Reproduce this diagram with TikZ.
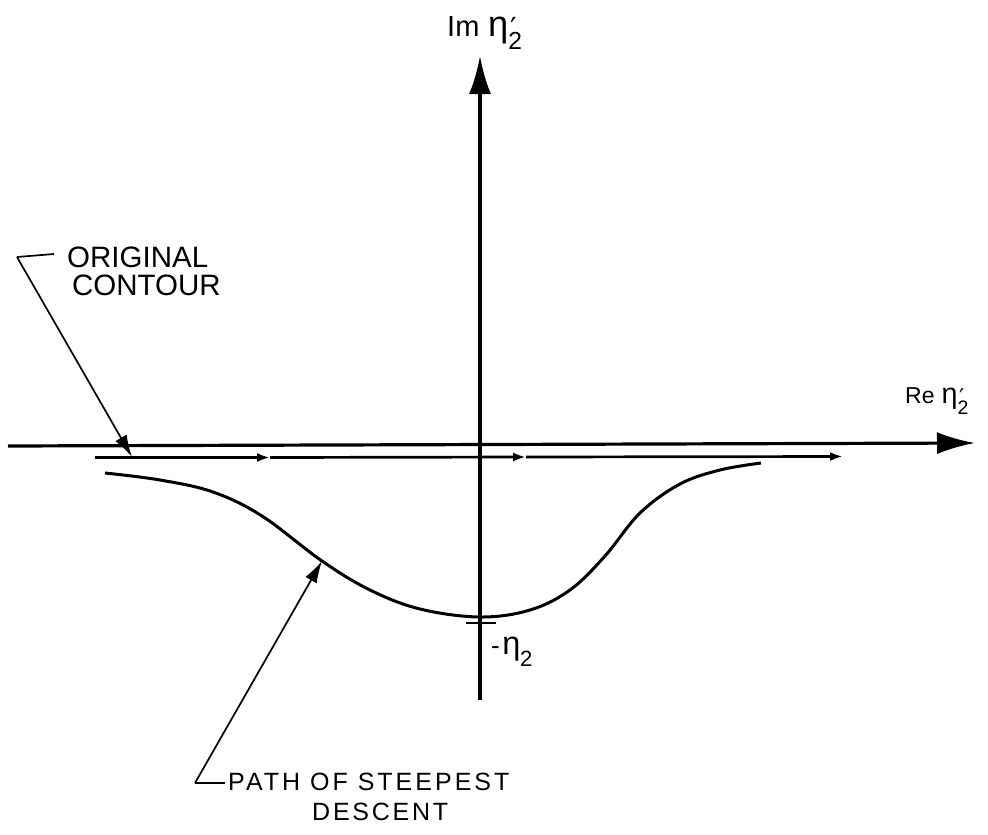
\documentclass[tikz,border=0pt]{standalone}
\usepackage{fontspec}
\setmainfont{Liberation Sans}
\newfontfamily\dvs{DejaVu Sans}
\usetikzlibrary{arrows.meta}
\newcommand{\bigeta}{\scalebox{1.25}{η}}
\newcommand{\etaPr}{\bigeta\rlap{\kern0.07em\raisebox{-0.1em}{\dvs ′}}\raisebox{-0.48em}{\scalebox{0.85}{2}}}
\newcommand{\etaNo}{\bigeta\kern-0.02em\raisebox{-0.48em}{\scalebox{0.85}{2}}}
\newcommand{\fs}[1]{\fontsize{#1}{#1}\selectfont}
\begin{document}
\begin{tikzpicture}[x=1pt,y=-1pt,
  axis/.style={line width=3.2pt,-{Latex[length=38pt,width=22pt]}},
  contour/.style={line width=2.7pt,-{Latex[length=13pt,width=9pt]}},
  leader/.style={line width=1.7pt},
  leadarrow/.style={line width=1.7pt,-{Latex[length=22pt,width=13pt]}},
  lbl/.style={inner sep=0pt,anchor=base west}]
\useasboundingbox (0,0) rectangle (988,835);
% axes
\coordinate (hL) at (8,446);
\coordinate (hR) at (975,443);
\coordinate (vB) at (480,700);
\coordinate (vT) at (480,56);
\draw[axis] (hL) -- (hR);
\draw[axis] (vB) -- (vT);
% original contour
\coordinate (c0) at (95,457.5);
\coordinate (m1) at (270,457.5);
\coordinate (m2) at (526,457);
\coordinate (c1) at (843,456.5);
\draw[contour] (c0) -- (m1);
\draw[contour] (m1) -- (m2);
\draw[contour] (m2) -- (c1);
% steepest descent path
\draw[line width=3pt] plot[smooth,tension=0.6] coordinates {(105,473) (160,480) (213,492) (262,516) (322,561) (370,590) (420,609) (480,617) (530,610) (570,590) (605,556) (640,513) (680,484) (720,470) (761,463)};
% tick at -eta2
\coordinate (t1) at (466,623);
\coordinate (t2) at (496,623);
\draw[line width=2.4pt] (t1) -- (t2);
% labels
\node[lbl] (im) at (447,36) {\fs{29}Im\kern0.3em\etaPr};
\node[lbl] (re) at (905,403) {\fs{23}Re\kern0.3em\etaPr};
\node[lbl] (me) at (491,654) {\fs{26}-\kern0.1em\etaNo};
\node[lbl] (oc1) at (67,267) {\fs{29.5}ORIGINAL};
\node[lbl] (oc2) at (72,295) {\fs{29.5}CONTOUR};
\node[lbl] (pd1) at (228,790) {\fs{25}\addfontfeature{LetterSpace=12}PATH OF STEEPEST};
\node[lbl] (pd2) at (312,820) {\fs{25}\addfontfeature{LetterSpace=11}DESCENT};
% leaders
\coordinate (oA) at (17,257);
\coordinate (oB) at (54,254);
\coordinate (oT) at (132,457);
\draw[leader] (oB) -- (oA);
\draw[leadarrow] (oA) -- (oT);
\coordinate (pA) at (225,783);
\coordinate (pB) at (195,783);
\coordinate (pT) at (322,561);
\draw[leader] (pA) -- (pB);
\draw[leadarrow] (pB) -- (pT);
\end{tikzpicture}
\end{document}
